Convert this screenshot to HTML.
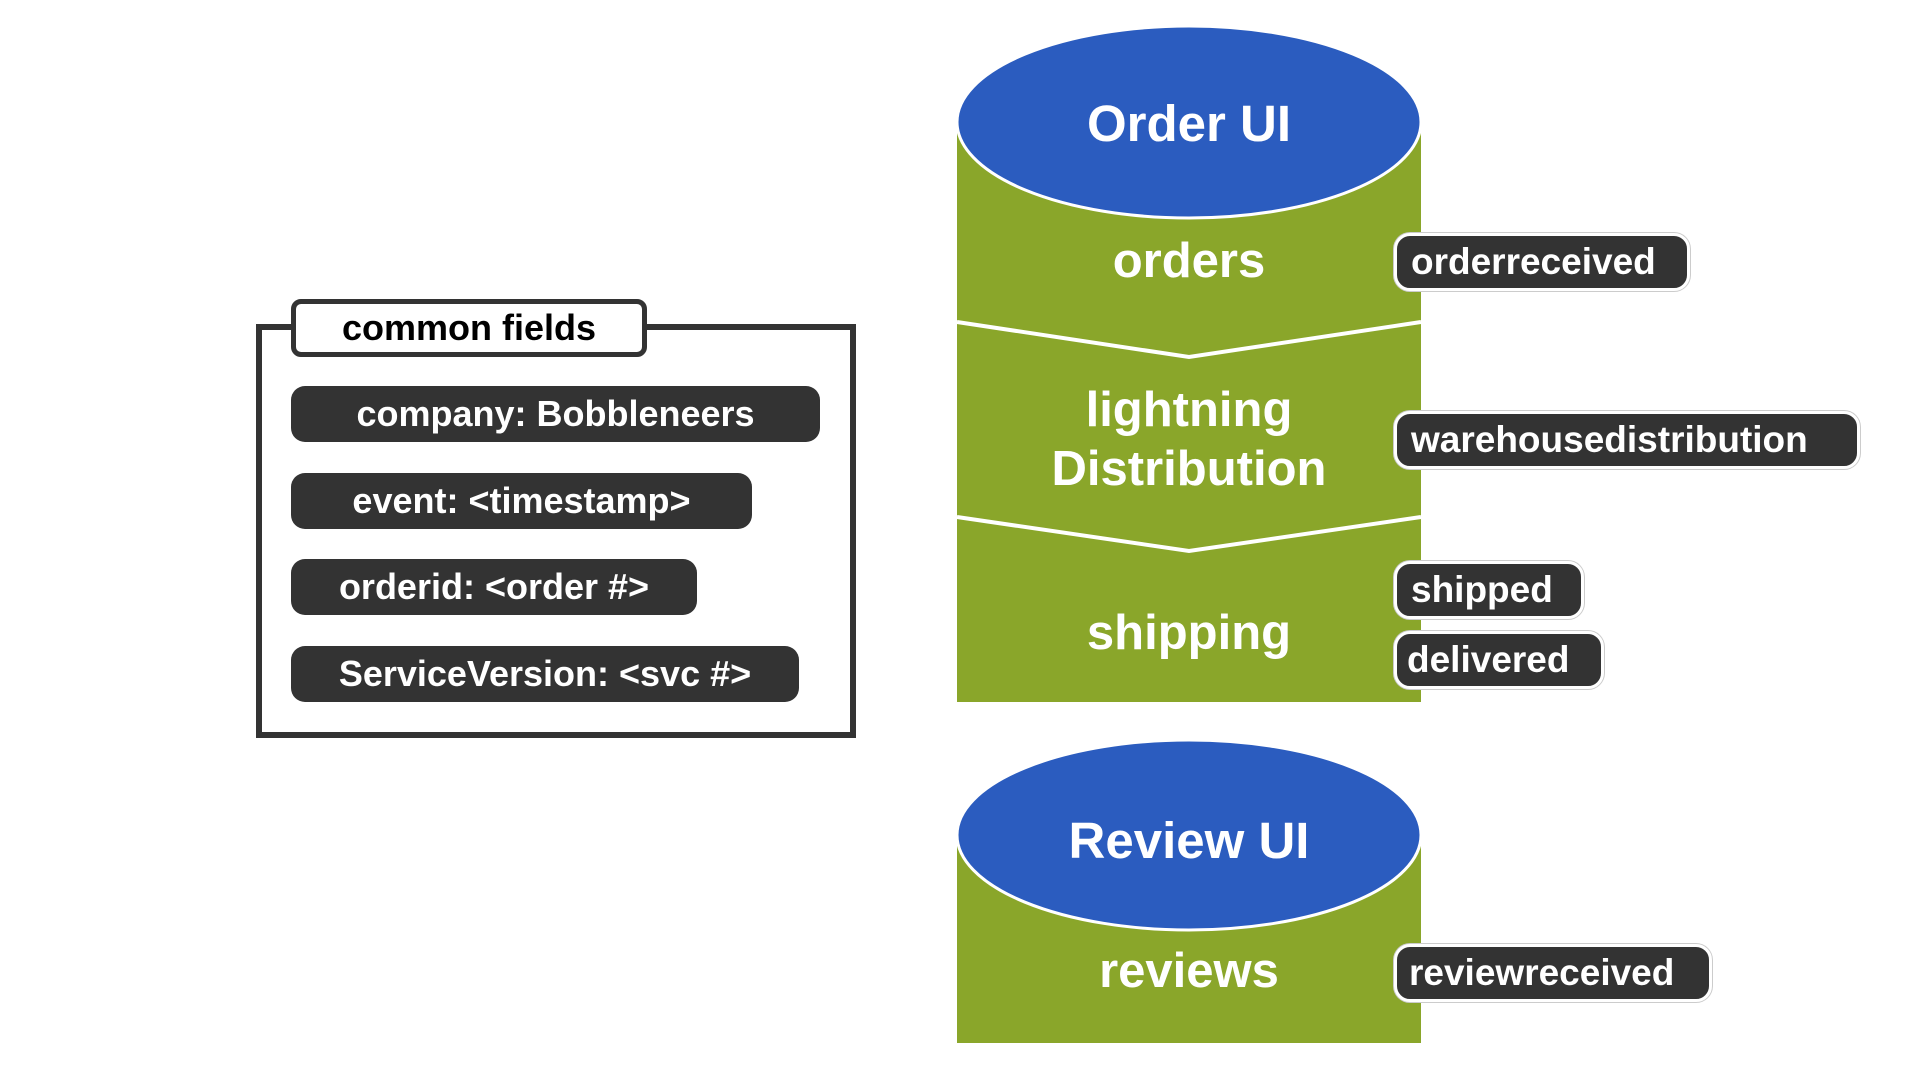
<!DOCTYPE html>
<html><head><meta charset="utf-8"><style>
body{margin:0;width:1920px;height:1080px;background:#fff;overflow:hidden;position:relative;font-family:"Liberation Sans",sans-serif;font-weight:bold}
.p{position:absolute;background:#333;color:#fff;border-radius:14px;font-size:36px;line-height:56px;height:56px;box-sizing:border-box;white-space:nowrap}
.l{position:absolute;background:#333;color:#fff;border-radius:16px;border:3px solid #fff;box-shadow:0 0 0 1px #ccc;font-size:37px;height:58px;line-height:52px;box-sizing:border-box;padding-left:14px;white-space:nowrap}
</style></head><body>
<div style="position:absolute;left:256px;top:324px;width:600px;height:414px;border:6px solid #333;box-sizing:border-box"></div>
<div style="position:absolute;left:291px;top:299px;width:356px;height:58px;background:#fff;border:5px solid #333;border-radius:10px;box-sizing:border-box;font-size:36px;line-height:48px;text-align:center;color:#000">common fields</div>
<div class="p" style="left:291px;top:386px;width:529px;text-align:center">company: Bobbleneers</div>
<div class="p" style="left:291px;top:473px;width:461px;text-align:center">event: &lt;timestamp&gt;</div>
<div class="p" style="left:291px;top:559px;width:406px;text-align:center">orderid: &lt;order #&gt;</div>
<div class="p" style="left:291px;top:646px;width:508px;text-align:center">ServiceVersion: &lt;svc #&gt;</div>
<svg width="1920" height="1080" style="position:absolute;left:0;top:0">
<rect x="957" y="123" width="464" height="579" fill="#8aa62a"/>
<polyline points="957,322 1189,357 1421,322" fill="none" stroke="#fff" stroke-width="4"/>
<polyline points="957,517 1189,551 1421,517" fill="none" stroke="#fff" stroke-width="4"/>
<ellipse cx="1189" cy="122" rx="232" ry="96" fill="#2b5cbf" stroke="#fff" stroke-width="3"/>
<rect x="957" y="835" width="464" height="208" fill="#8aa62a"/>
<ellipse cx="1189" cy="835" rx="232" ry="95" fill="#2b5cbf" stroke="#fff" stroke-width="3"/>
<g fill="#fff" font-family="Liberation Sans" font-weight="bold" text-anchor="middle">
<text x="1189" y="141" font-size="51">Order UI</text>
<text x="1189" y="277" font-size="49">orders</text>
<text x="1189" y="426" font-size="49">lightning</text>
<text x="1189" y="485" font-size="49">Distribution</text>
<text x="1189" y="649" font-size="49">shipping</text>
<text x="1189" y="858" font-size="51">Review UI</text>
<text x="1189" y="987" font-size="49">reviews</text>
</g></svg>
<div class="l" style="left:1394px;top:233px;width:296px">orderreceived</div>
<div class="l" style="left:1394px;top:411px;width:466px">warehousedistribution</div>
<div class="l" style="left:1394px;top:561px;width:190px">shipped</div>
<div class="l" style="left:1394px;top:631px;width:210px;padding-left:10px">delivered</div>
<div class="l" style="left:1394px;top:944px;width:318px;padding-left:12px">reviewreceived</div>
</body></html>
